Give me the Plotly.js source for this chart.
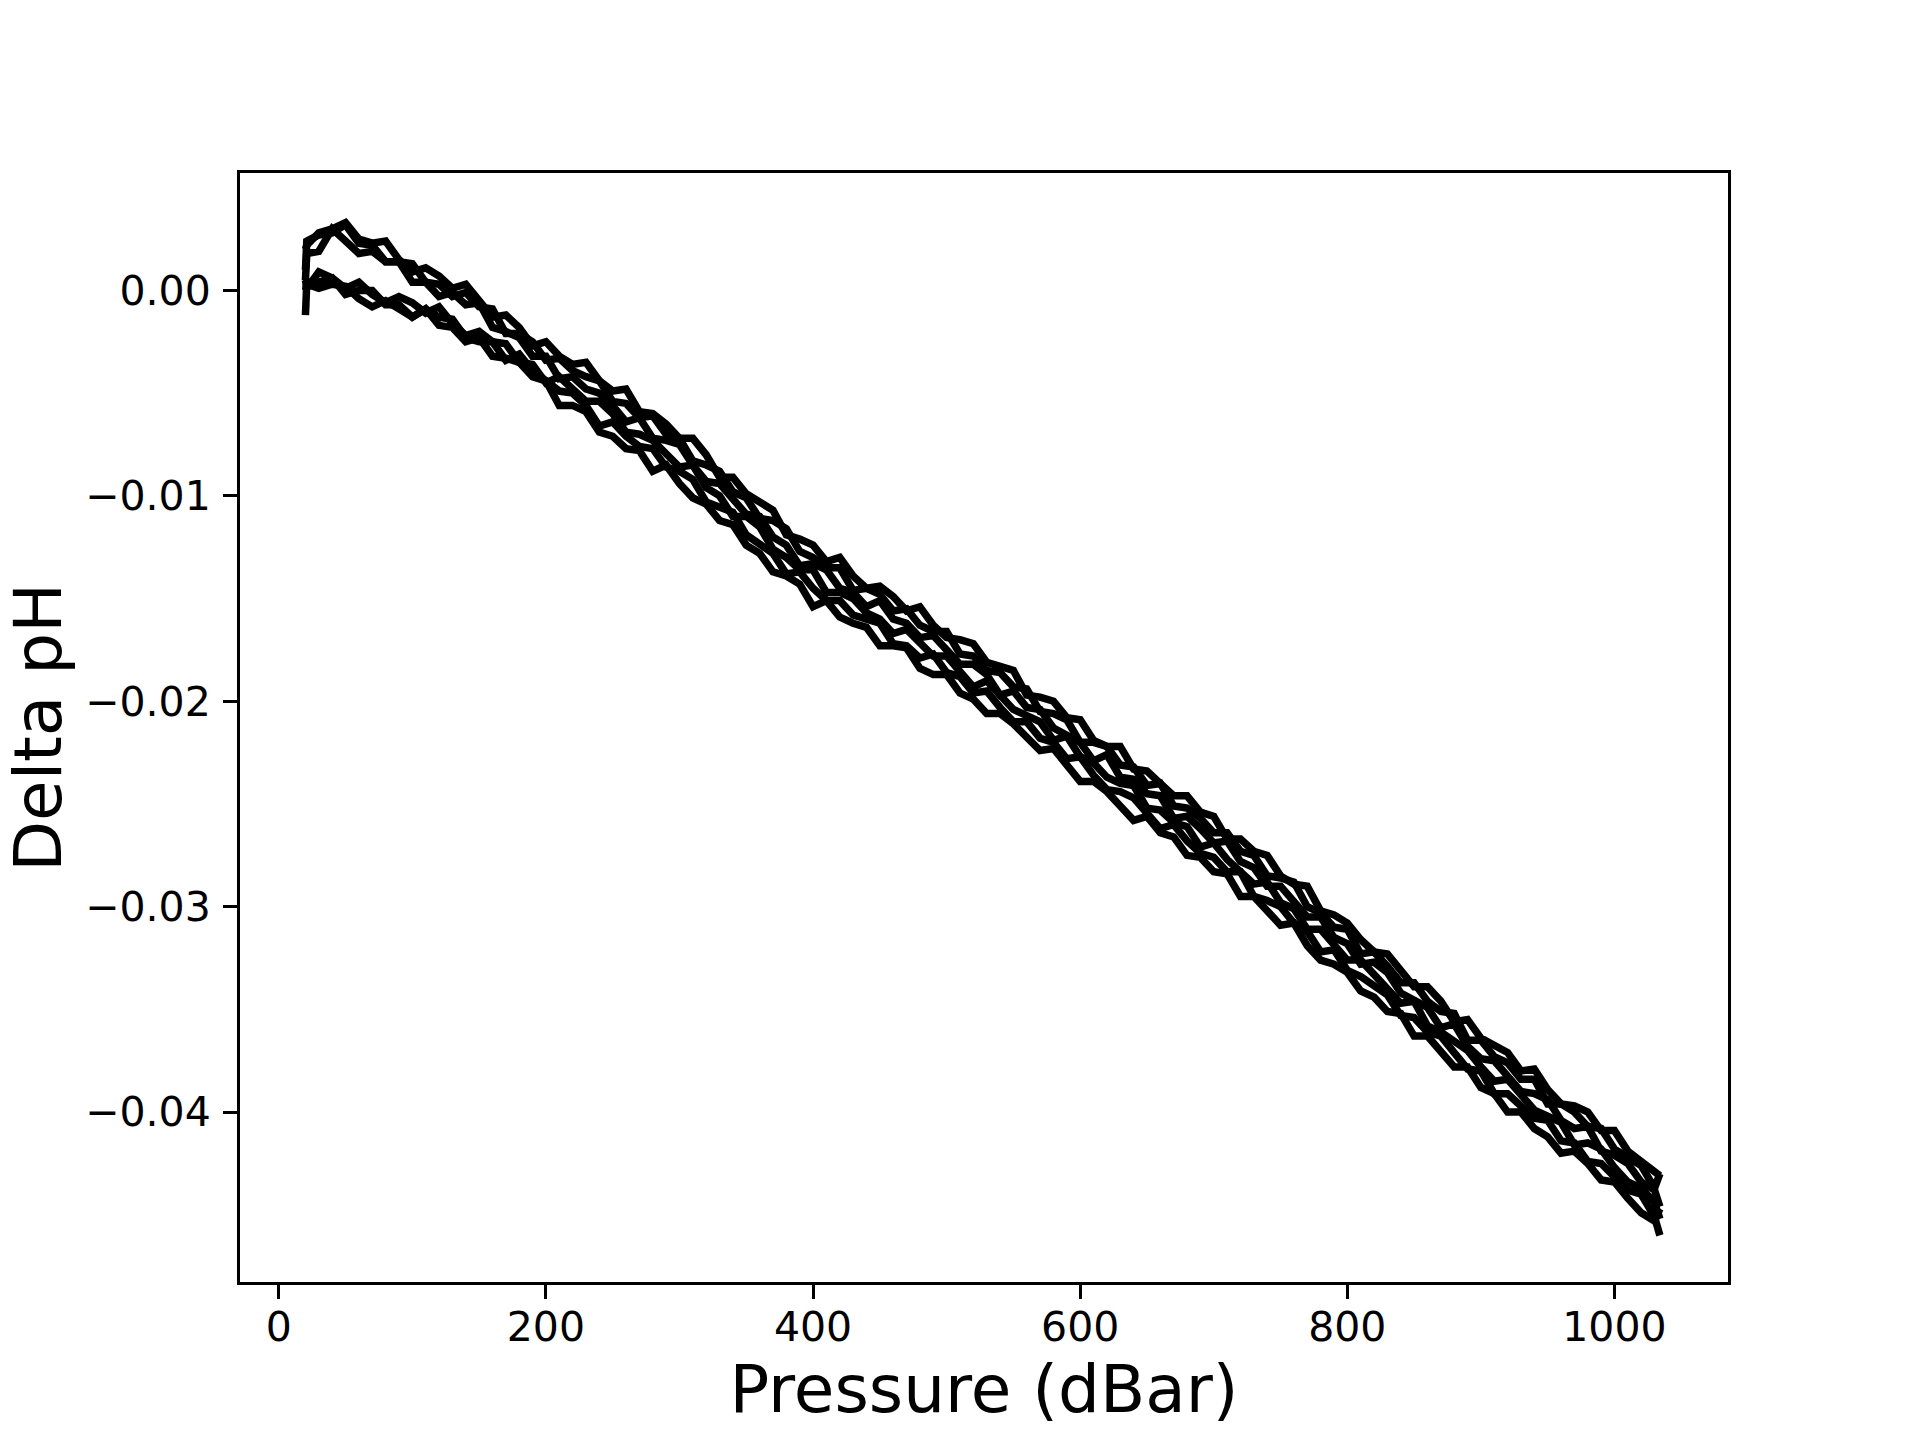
<!DOCTYPE html>
<html>
<head>
<meta charset="utf-8">
<script src="https://cdn.plot.ly/plotly-3.0.1.min.js"></script>
<style>html,body{margin:0;padding:0;background:#fff;}#chart{width:1920px;height:1440px;}</style>
</head>
<body>
<div id="chart"></div>
<script>
// Pressure (dBar) shared by all profiles
var pressure = [20, 21, 30, 40, 50, 60, 70, 80, 90, 100, 110, 120, 130, 140, 150, 160, 170, 180, 190, 200,
  210, 220, 230, 240, 250, 260, 270, 280, 290, 300, 310, 320, 330, 340, 350, 360, 370, 380, 390, 400,
  410, 420, 430, 440, 450, 460, 470, 480, 490, 500, 510, 520, 530, 540, 550, 560, 570, 580, 590, 600,
  610, 620, 630, 640, 650, 660, 670, 680, 690, 700, 710, 720, 730, 740, 750, 760, 770, 780, 790, 800,
  810, 820, 830, 840, 850, 860, 870, 880, 890, 900, 910, 920, 930, 940, 950, 960, 970, 980, 990, 1000,
  1010, 1020, 1030, 1034];

// Delta pH profiles
var ph1 = [0.0010, 0.0024,
  0.0027, 0.0028, 0.0032, 0.0023, 0.0022, 0.0014, 0.0014, 0.0013, 0.0004, 0.0003,
  -0.0003, -0.0001, -0.0008, -0.0009, -0.0021, -0.0021, -0.0025, -0.0034, -0.0033, -0.0039,
  -0.0042, -0.0044, -0.0054, -0.0055, -0.0062, -0.0061, -0.0070, -0.0072, -0.0083, -0.0085,
  -0.0088, -0.0098, -0.0101, -0.0111, -0.0112, -0.0116, -0.0127, -0.0130, -0.0135, -0.0135,
  -0.0146, -0.0145, -0.0148, -0.0156, -0.0155, -0.0163, -0.0166, -0.0166, -0.0177, -0.0178,
  -0.0185, -0.0186, -0.0193, -0.0194, -0.0205, -0.0206, -0.0209, -0.0220, -0.0220, -0.0222,
  -0.0231, -0.0232, -0.0241, -0.0240, -0.0251, -0.0252, -0.0257, -0.0264, -0.0264, -0.0273,
  -0.0275, -0.0285, -0.0286, -0.0288, -0.0300, -0.0303, -0.0310, -0.0311, -0.0323, -0.0322,
  -0.0329, -0.0337, -0.0337, -0.0346, -0.0351, -0.0352, -0.0365, -0.0365, -0.0373, -0.0376,
  -0.0384, -0.0384, -0.0396, -0.0396, -0.0400, -0.0407, -0.0408, -0.0418, -0.0422, -0.0426,
  -0.0437, -0.0430];

var ph2 = [0.0005, 0.0018,
  0.0019, 0.0030, 0.0024, 0.0018, 0.0019, 0.0014, 0.0014, 0.0004, 0.0004, -0.0003,
  -0.0001, -0.0007, -0.0006, -0.0018, -0.0020, -0.0023, -0.0032, -0.0032, -0.0043, -0.0042,
  -0.0048, -0.0050, -0.0056, -0.0064, -0.0062, -0.0072, -0.0073, -0.0075, -0.0085, -0.0093,
  -0.0094, -0.0102, -0.0109, -0.0110, -0.0120, -0.0124, -0.0134, -0.0133, -0.0136, -0.0145,
  -0.0147, -0.0154, -0.0151, -0.0160, -0.0162, -0.0169, -0.0168, -0.0175, -0.0182, -0.0182,
  -0.0187, -0.0197, -0.0195, -0.0203, -0.0204, -0.0213, -0.0216, -0.0220, -0.0229, -0.0226,
  -0.0237, -0.0238, -0.0245, -0.0246, -0.0257, -0.0256, -0.0262, -0.0269, -0.0268, -0.0278,
  -0.0281, -0.0290, -0.0290, -0.0297, -0.0305, -0.0305, -0.0315, -0.0318, -0.0328, -0.0327,
  -0.0332, -0.0342, -0.0345, -0.0349, -0.0359, -0.0357, -0.0368, -0.0374, -0.0375, -0.0382,
  -0.0390, -0.0391, -0.0394, -0.0404, -0.0408, -0.0407, -0.0419, -0.0421, -0.0425, -0.0434,
  -0.0438, -0.0446];

var ph3 = [0.0020, 0.0022,
  0.0028, 0.0030, 0.0033, 0.0025, 0.0023, 0.0024, 0.0015, 0.0009, 0.0011, 0.0007,
  0.0001, 0.0003, -0.0005, -0.0013, -0.0012, -0.0018, -0.0027, -0.0025, -0.0032, -0.0036,
  -0.0035, -0.0044, -0.0049, -0.0048, -0.0059, -0.0060, -0.0065, -0.0072, -0.0072, -0.0080,
  -0.0091, -0.0091, -0.0099, -0.0103, -0.0107, -0.0119, -0.0121, -0.0124, -0.0132, -0.0130,
  -0.0139, -0.0145, -0.0144, -0.0149, -0.0156, -0.0154, -0.0163, -0.0169, -0.0170, -0.0172,
  -0.0181, -0.0183, -0.0185, -0.0197, -0.0198, -0.0200, -0.0208, -0.0209, -0.0219, -0.0222,
  -0.0222, -0.0233, -0.0234, -0.0240, -0.0246, -0.0246, -0.0254, -0.0256, -0.0267, -0.0267,
  -0.0273, -0.0275, -0.0285, -0.0289, -0.0290, -0.0302, -0.0304, -0.0308, -0.0316, -0.0322,
  -0.0323, -0.0331, -0.0339, -0.0339, -0.0346, -0.0356, -0.0355, -0.0364, -0.0368, -0.0371,
  -0.0380, -0.0379, -0.0389, -0.0396, -0.0397, -0.0400, -0.0409, -0.0409, -0.0419, -0.0424,
  -0.0428, -0.0431];

var ph4 = [-0.0012, 0.0004,
  0.0004, 0.0006, -0.0002, 0.0000, 0.0000, -0.0007, -0.0007, -0.0013, -0.0009, -0.0013,
  -0.0014, -0.0023, -0.0025, -0.0025, -0.0034, -0.0031, -0.0039, -0.0044, -0.0049, -0.0050,
  -0.0056, -0.0066, -0.0064, -0.0071, -0.0076, -0.0077, -0.0086, -0.0088, -0.0092, -0.0103,
  -0.0106, -0.0108, -0.0119, -0.0124, -0.0128, -0.0138, -0.0137, -0.0145, -0.0151, -0.0151,
  -0.0158, -0.0160, -0.0162, -0.0172, -0.0173, -0.0179, -0.0177, -0.0186, -0.0188, -0.0196,
  -0.0195, -0.0203, -0.0210, -0.0210, -0.0218, -0.0220, -0.0228, -0.0227, -0.0236, -0.0243,
  -0.0244, -0.0247, -0.0255, -0.0262, -0.0260, -0.0268, -0.0274, -0.0276, -0.0283, -0.0283,
  -0.0295, -0.0297, -0.0300, -0.0308, -0.0312, -0.0322, -0.0321, -0.0331, -0.0334, -0.0338,
  -0.0343, -0.0353, -0.0354, -0.0361, -0.0363, -0.0371, -0.0379, -0.0380, -0.0391, -0.0391,
  -0.0397, -0.0403, -0.0404, -0.0414, -0.0415, -0.0424, -0.0425, -0.0431, -0.0438, -0.0440,
  -0.0451, -0.0460];

var ph5 = [0.0005, 0.0001,
  0.0009, 0.0006, 0.0001, 0.0004, -0.0002, -0.0006, -0.0003, -0.0006, -0.0011, -0.0008,
  -0.0016, -0.0022, -0.0020, -0.0025, -0.0026, -0.0035, -0.0036, -0.0045, -0.0042, -0.0048,
  -0.0054, -0.0054, -0.0060, -0.0069, -0.0070, -0.0073, -0.0080, -0.0086, -0.0085, -0.0096,
  -0.0100, -0.0110, -0.0110, -0.0115, -0.0126, -0.0130, -0.0136, -0.0136, -0.0147, -0.0147,
  -0.0150, -0.0157, -0.0160, -0.0167, -0.0165, -0.0171, -0.0178, -0.0178, -0.0185, -0.0193,
  -0.0190, -0.0197, -0.0204, -0.0207, -0.0210, -0.0219, -0.0217, -0.0227, -0.0230, -0.0237,
  -0.0240, -0.0241, -0.0252, -0.0253, -0.0259, -0.0261, -0.0271, -0.0269, -0.0277, -0.0283,
  -0.0289, -0.0288, -0.0298, -0.0301, -0.0311, -0.0311, -0.0319, -0.0326, -0.0326, -0.0333,
  -0.0341, -0.0347, -0.0346, -0.0358, -0.0361, -0.0365, -0.0370, -0.0378, -0.0385, -0.0384,
  -0.0391, -0.0399, -0.0402, -0.0405, -0.0416, -0.0415, -0.0418, -0.0427, -0.0434, -0.0437,
  -0.0444, -0.0452];

var ph6 = [0.0000, 0.0003,
  0.0001, 0.0003, 0.0002, -0.0004, -0.0008, -0.0005, -0.0009, -0.0013, -0.0009, -0.0017,
  -0.0018, -0.0025, -0.0023, -0.0032, -0.0033, -0.0035, -0.0042, -0.0044, -0.0056, -0.0056,
  -0.0059, -0.0069, -0.0071, -0.0077, -0.0078, -0.0088, -0.0085, -0.0094, -0.0101, -0.0104,
  -0.0112, -0.0114, -0.0124, -0.0128, -0.0137, -0.0139, -0.0143, -0.0154, -0.0151, -0.0159,
  -0.0162, -0.0164, -0.0173, -0.0173, -0.0174, -0.0184, -0.0187, -0.0187, -0.0196, -0.0199,
  -0.0206, -0.0206, -0.0211, -0.0218, -0.0224, -0.0223, -0.0231, -0.0239, -0.0239, -0.0244,
  -0.0251, -0.0258, -0.0256, -0.0264, -0.0266, -0.0275, -0.0276, -0.0283, -0.0284, -0.0295,
  -0.0295, -0.0302, -0.0309, -0.0308, -0.0319, -0.0326, -0.0328, -0.0332, -0.0341, -0.0344,
  -0.0351, -0.0352, -0.0363, -0.0363, -0.0371, -0.0378, -0.0378, -0.0388, -0.0391, -0.0400,
  -0.0400, -0.0408, -0.0412, -0.0420, -0.0419, -0.0425, -0.0433, -0.0434, -0.0442, -0.0449,
  -0.0453, -0.0447];

var profiles = [ph1, ph2, ph3, ph4, ph5, ph6];

var xTickVals = [0, 200, 400, 600, 800, 1000];
var xTickText = ['0', '200', '400', '600', '800', '1000'];
var yTickVals = [0.00, -0.01, -0.02, -0.03, -0.04];
var yTickText = ['0.00', '\u22120.01', '\u22120.02', '\u22120.03', '\u22120.04'];

var traces = profiles.map(function (ys) {
  return {
    x: pressure,
    y: ys,
    type: 'scatter',
    mode: 'lines',
    line: {color: '#000000', width: 7.5},
    hoverinfo: 'skip',
    showlegend: false
  };
});

var FONT = 'DejaVu Sans, Liberation Sans, sans-serif';

var layout = {
  width: 1920,
  height: 1440,
  paper_bgcolor: '#ffffff',
  plot_bgcolor: '#ffffff',
  font: {family: FONT, color: '#000000', size: 41},
  margin: {l: 240, r: 192, t: 173, b: 158, pad: 0},
  showlegend: false,
  xaxis: {
    range: [-29, 1085],
    tickmode: 'array',
    tickvals: xTickVals,
    ticktext: xTickText,
    ticks: 'outside',
    ticklen: 14,
    tickwidth: 3,
    tickcolor: '#000000',
    ticklabelstandoff: -7,
    showline: true,
    linewidth: 3,
    linecolor: '#000000',
    mirror: true,
    showgrid: false,
    zeroline: false,
    tickfont: {family: FONT, size: 41, color: '#000000'},
    title: {text: 'Pressure (dBar)', font: {family: FONT, size: 66, color: '#000000'}, standoff: 13},
    automargin: false
  },
  yaxis: {
    range: [-0.04827, 0.005716],
    tickmode: 'array',
    tickvals: yTickVals,
    ticktext: yTickText,
    ticks: 'outside',
    ticklen: 14,
    tickwidth: 3,
    tickcolor: '#000000',
    ticklabelstandoff: 4,
    showline: true,
    linewidth: 3,
    linecolor: '#000000',
    mirror: true,
    showgrid: false,
    zeroline: false,
    tickfont: {family: FONT, size: 41, color: '#000000'},
    title: {text: 'Delta pH', font: {family: FONT, size: 66, color: '#000000'}, standoff: 22},
    automargin: false
  }
};

Plotly.newPlot('chart', traces, layout, {staticPlot: true, displayModeBar: false});
</script>
</body>
</html>
